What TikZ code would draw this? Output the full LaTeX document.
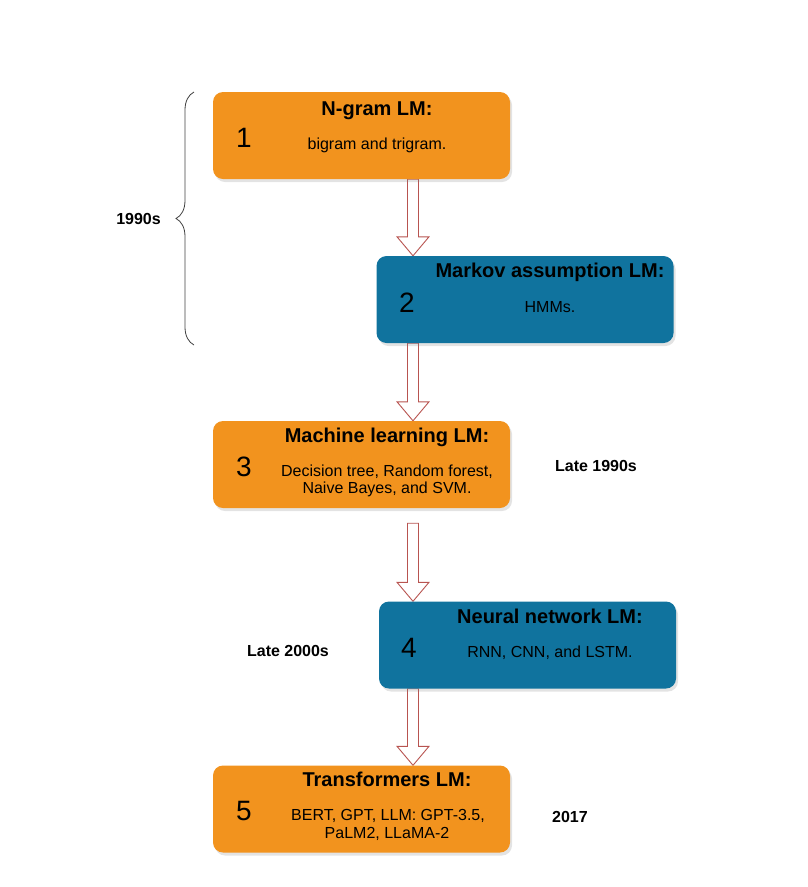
\documentclass[tikz,border=0pt]{standalone}
\usepackage{fontspec}
\setmainfont{Liberation Sans}
\usetikzlibrary{shadows,calc,decorations.pathreplacing}

\definecolor{boxorange}{HTML}{F2931E}
\definecolor{boxblue}{HTML}{10739E}
\definecolor{arrowred}{HTML}{B85450}

\pgfdeclarelayer{background}
\pgfsetlayers{background,main}

\tikzset{
  stage/.style={rounded corners=10pt, minimum width=297pt, minimum height=87pt,
    inner sep=0pt, drop shadow={shadow xshift=2pt, shadow yshift=-3pt, opacity=.22}},
  orangebox/.style={stage, fill=boxorange},
  bluebox/.style={stage, fill=boxblue},
  title/.style={font=\fontsize{20}{24}\selectfont\bfseries, anchor=base, inner sep=0pt},
  num/.style={font=\fontsize{28}{30}\selectfont, anchor=base, inner sep=0pt},
  desc/.style={font=\fontsize{16}{18}\selectfont, anchor=base, inner sep=0pt},
  era/.style={font=\fontsize{16}{18}\selectfont\bfseries, anchor=base, inner sep=0pt},
  fatarrow/.style={draw=arrowred, fill=white, line width=0.9pt, line join=miter},
}

\begin{document}
\begin{tikzpicture}[x=1pt,y=-1pt]
\useasboundingbox (0,0) rectangle (807,887);

% the five stages
\node[orangebox] (b1) at (361.5,135.5) {};
\node[bluebox] (b2) at (525,299.5) {};
\node[orangebox] (b3) at (361.5,464.5) {};
\node[bluebox] (b4) at (527.5,645) {};
\node[orangebox] (b5) at (361.5,809) {};

\node[title] (t1) at (377,115) {N-gram LM:};
\node[num] (n1) at (244,147) {1};
\node[desc] (d1) at (377,149) {bigram and trigram.};

\node[title] (t2) at (550,277) {Markov assumption LM:};
\node[num] (n2) at (407,312) {2};
\node[desc] (d2) at (550,312) {HMMs.};

\node[title] (t3) at (387,442) {Machine learning LM:};
\node[num] (n3) at (244,476) {3};
\node[desc] (d3a) at (387,476) {Decision tree, Random forest,};
\node[desc] (d3b) at (387,493) {Naive Bayes, and SVM.};

\node[title] (t4) at (550,623) {Neural network LM:};
\node[num] (n4) at (409,657) {4};
\node[desc] (d4) at (550,657) {RNN, CNN, and LSTM.};

\node[title] (t5) at (387,786) {Transformers LM:};
\node[num] (n5) at (244,820) {5};
\node[desc] (d5a) at (388,820) {BERT, GPT, LLM: GPT-3.5,};
\node[desc] (d5b) at (387,838) {PaLM2, LLaMA-2};

% dates
\node[era] (y90) at (138.5,224) {1990s};
\node[era] (late90) at (596,471) {Late 1990s};
\node[era] (late00) at (288,656) {Late 2000s};
\node[era] (y17) at (570,822) {2017};

\coordinate (btop) at (194,92);
\coordinate (bbot) at (194,345);
\draw[draw=black!75, line width=0.8pt, decorate, decoration={brace, amplitude=18pt}]
  (bbot) -- (btop);

% hollow arrows between the stages (gap = free space under the upper box)
\coordinate (ax) at (413,0);
\begin{pgfonlayer}{background}
\foreach \a/\b/\gap in {b1/b2/0,b2/b3/0,b3/b4/15,b4/b5/0}
  \draw[fatarrow] let \p1=(\a.south -| ax), \p2=(\b.north -| ax) in
    (\x1+5.5pt,\y1-\gap pt) -- (\x1+5.5pt,\y2+19pt) -- (\x1+16pt,\y2+19pt) -- (\x1,\y2)
    -- (\x1-16pt,\y2+19pt) -- (\x1-5.5pt,\y2+19pt) -- (\x1-5.5pt,\y1-\gap pt) -- cycle;
\end{pgfonlayer}
\end{tikzpicture}
\end{document}
